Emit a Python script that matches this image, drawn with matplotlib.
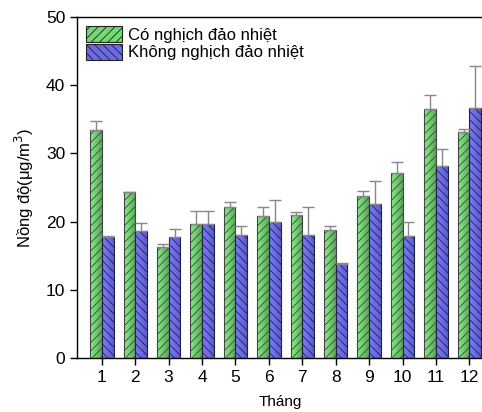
import matplotlib
matplotlib.use("Agg")
import matplotlib.pyplot as plt
import numpy as np
from matplotlib.colors import LinearSegmentedColormap
from matplotlib.patches import Patch

plt.rcParams['font.family'] = ['Liberation Sans', 'DejaVu Sans']
plt.rcParams['hatch.linewidth'] = 0.6

months = [1, 2, 3, 4, 5, 6, 7, 8, 9, 10, 11, 12]
co_nd = [33.4, 24.3, 16.2, 19.6, 22.1, 20.8, 20.9, 18.7, 23.8, 27.1, 36.5, 33.2]
co_err = [1.3, 0.1, 0.5, 2.0, 0.7, 1.4, 0.5, 0.7, 0.7, 1.6, 2.1, 0.3]
khong_nd = [17.7, 18.6, 17.7, 19.6, 18.1, 19.9, 18.0, 13.8, 22.6, 17.9, 28.1, 36.6]
khong_err = [0.2, 1.2, 1.2, 1.9, 1.2, 3.2, 4.2, 0.2, 3.4, 2.1, 2.6, 6.2]

label_co = 'Có nghịch đảo nhiệt'
label_khong = 'Không nghịch đảo nhiệt'

fig = plt.figure(figsize=(4.82, 4.12), dpi=100)
ax = fig.add_axes([0.16, 0.131, 0.845, 0.828])

w = 0.35
x = np.array(months, dtype=float)

green_cmap = LinearSegmentedColormap.from_list('g', ['#84f284', '#5aa55a'])
blue_cmap = LinearSegmentedColormap.from_list('b', ['#7c7cff', '#5c5cd0'])
grad = np.linspace(0, 1, 64).reshape(1, -1)

bars_g = ax.bar(x - w/2, co_nd, width=w, facecolor='none', edgecolor='#444444',
                linewidth=0.8, hatch='////', zorder=3)
bars_b = ax.bar(x + w/2, khong_nd, width=w, facecolor='none', edgecolor='#222244',
                linewidth=0.8, hatch='\\\\\\\\', zorder=3)

for bars, cmap in ((bars_g, green_cmap), (bars_b, blue_cmap)):
    for b in bars:
        x0, y0 = b.get_x(), b.get_y()
        im = ax.imshow(grad, cmap=cmap, aspect='auto',
                       extent=(x0, x0 + b.get_width(), y0, y0 + b.get_height()),
                       zorder=2, interpolation='bilinear')
        im.set_clip_path(b)

ax.errorbar(x - w/2, co_nd, yerr=[np.zeros(12), co_err], fmt='none',
            ecolor='#888888', elinewidth=1.0, capsize=4, capthick=1.0, zorder=4)
ax.errorbar(x + w/2, khong_nd, yerr=[np.zeros(12), khong_err], fmt='none',
            ecolor='#888888', elinewidth=1.0, capsize=4, capthick=1.0, zorder=4)

ax.set_xlim(0.26, 12.45)
ax.set_ylim(0, 50)
ax.set_xticks(months)
ax.set_xticklabels([str(m) for m in months])
ax.set_yticks([0, 10, 20, 30, 40, 50])
ax.tick_params(axis='both', direction='out', labelsize=12.5, length=5, width=1)
ax.spines['right'].set_visible(False)
for s in ('left', 'bottom', 'top'):
    ax.spines[s].set_linewidth(1.0)

ax.set_xlabel('Tháng', fontsize=11, labelpad=7)
ax.set_ylabel('Nồng độ(μg/m$^3$)', fontsize=12, labelpad=7)

handles = [Patch(facecolor='#72da72', edgecolor='#222222', hatch='////', linewidth=0.8),
           Patch(facecolor='#6a6aea', edgecolor='#222222', hatch='\\\\\\\\', linewidth=0.8)]
ax.legend(handles, [label_co, label_khong], loc='upper left', frameon=False,
          fontsize=12, handlelength=2.15, handleheight=1.1, handletextpad=0.35,
          labelspacing=0.05, borderaxespad=0.3, borderpad=0.25)

fig.savefig('out.png', dpi=100)
